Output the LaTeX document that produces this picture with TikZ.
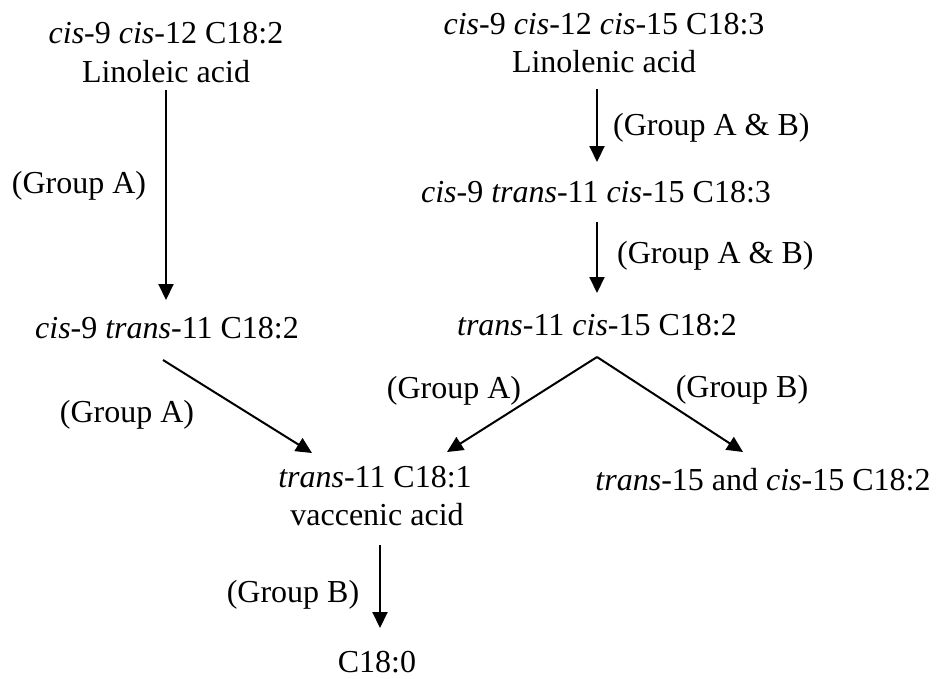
\documentclass[tikz,border=0pt]{standalone}
\usepackage{fontspec}
\setmainfont{Liberation Serif}
\usetikzlibrary{arrows.meta,calc}
\tikzset{
  lbl/.style={inner sep=0pt, anchor=base, font=\fontsize{32}{39}\selectfont},
  grp/.style={inner sep=0pt, anchor=base, font=\fontsize{32}{39}\selectfont},
  arr/.style={line width=2pt, -{Triangle[length=16pt,width=15pt]}}
}
\begin{document}
\begin{tikzpicture}[x=1pt,y=-1pt]
\useasboundingbox (0,0) rectangle (936,678);
% compounds
\node[lbl] (la1) at (166,43) {\textit{cis}-9 \textit{cis}-12 C18:2};
\node[lbl] (la2) at (166,82) {Linoleic acid};
\node[lbl] (ln1) at (604,34) {\textit{cis}-9 \textit{cis}-12 \textit{cis}-15 C18:3};
\node[lbl] (ln2) at (604,72) {Linolenic acid};
\node[lbl] (c3) at (596,202) {\textit{cis}-9 \textit{trans}-11 \textit{cis}-15 C18:3};
\node[lbl] (t2) at (597,335) {\textit{trans}-11 \textit{cis}-15 C18:2};
\node[lbl] (ct) at (167,338) {\textit{cis}-9 \textit{trans}-11 C18:2};
\node[lbl] (v1) at (375,487) {\textit{trans}-11 C18:1};
\node[lbl] (v2) at (377,525) {vaccenic acid};
\node[lbl] (tc) at (763,490) {\textit{trans}-15 and \textit{cis}-15 C18:2};
\node[lbl] (c0) at (377,672) {C18:0};
% group labels
\node[grp] (g1) at (79,193) {(Group A)};
\node[grp, anchor=base west] (g2) at (613,135) {(Group A \& B)};
\node[grp, anchor=base west] (g3) at (617,263) {(Group A \& B)};
\node[grp] (g4) at (454,398) {(Group A)};
\node[grp] (g5) at (742,397) {(Group B)};
\node[grp] (g6) at (127,422) {(Group A)};
\node[grp] (g7) at (293,602) {(Group B)};
% connectors
\draw[arr] ($(la2.base)+(0,8)$) -- ($(ct.base)+(-1,-38)$);
\draw[arr] ($(ln2.base)+(-7,17)$) -- ($(c3.base)+(1,-40)$);
\draw[arr] ($(c3.base)+(1,20)$) -- ($(t2.base)+(0,-42)$);
\draw[arr] ($(ct.base)+(-4,22)$) -- ($(v1.base)+(-63,-34)$);
\coordinate (apex) at ($(t2.base)+(0,22)$);
\draw[arr] (apex) -- ($(v1.base)+(72,-35)$);
\draw[arr] (apex) -- ($(tc.base)+(-20,-38)$);
\draw[arr] ($(v2.base)+(3,20)$) -- ($(c0.base)+(3,-44)$);
\end{tikzpicture}
\end{document}
